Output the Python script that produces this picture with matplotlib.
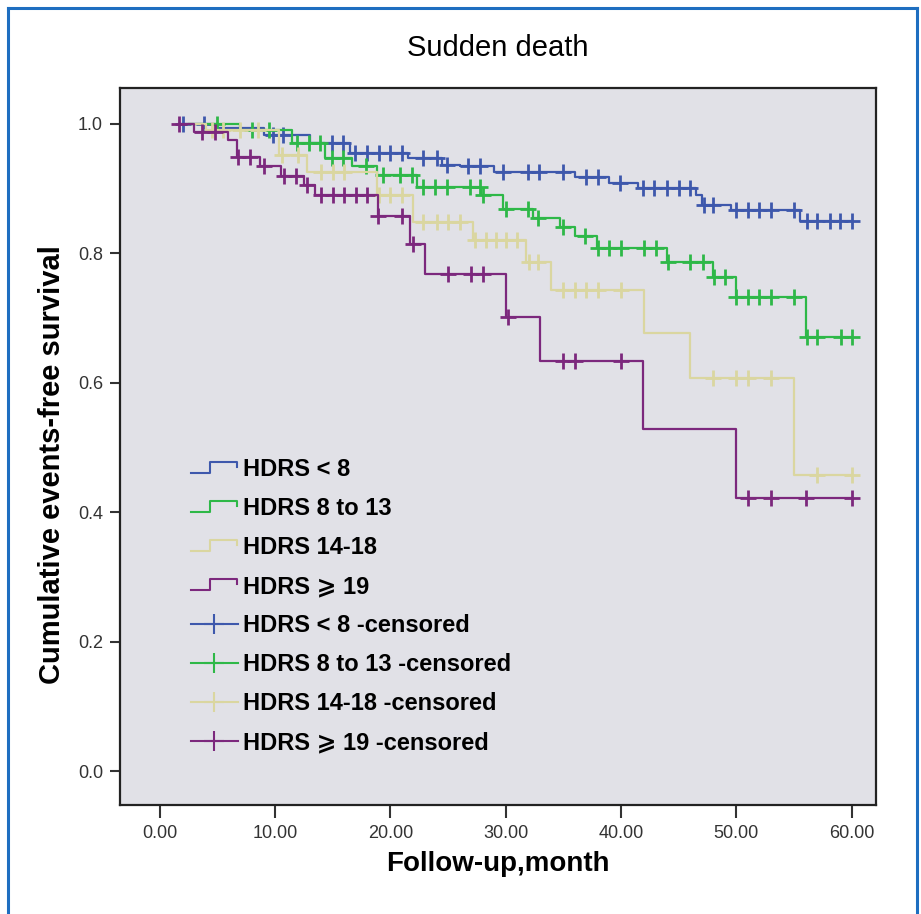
import numpy as np
import matplotlib
matplotlib.use("Agg")
import matplotlib.pyplot as plt
from matplotlib.lines import Line2D
from matplotlib.legend_handler import HandlerBase

plt.rcParams['font.family'] = ['Liberation Sans', 'DejaVu Sans']

# step times (months) and survival after each step, censored times
blue_t = [1.7, 5.0, 9.0, 13.0, 16.5, 21.5, 24.5, 26.0, 29.0, 36.0, 39.0, 41.5, 46.5, 47.0, 49.5, 55.5]
blue_s = [1.0, 0.993, 0.982, 0.971, 0.955, 0.947, 0.937, 0.934, 0.926, 0.917, 0.909, 0.901, 0.89, 0.875, 0.866, 0.85]
blue_c = [2.0, 3.8, 9.8, 10.7, 14.9, 15.9, 16.9, 18.0, 19.0, 20.0, 21.0, 22.8, 24.0, 24.9, 26.7, 27.8,
          29.8, 31.9, 32.9, 35.0, 37.0, 38.0, 39.9, 41.9, 42.9, 44.0, 45.0, 46.0, 47.2, 48.0,
          50.0, 51.0, 52.0, 53.0, 55.0, 56.1, 57.0, 58.1, 59.0, 60.0]

green_t = [2.5, 7.0, 11.5, 14.3, 16.7, 18.8, 22.3, 27.9, 29.8, 32.4, 34.7, 36.0, 37.9, 44.0, 48.0, 50.0, 56.0]
green_s = [1.0, 0.99, 0.97, 0.947, 0.934, 0.921, 0.903, 0.89, 0.868, 0.855, 0.841, 0.826, 0.808, 0.787, 0.764, 0.733, 0.671]
green_c = [5.0, 8.0, 9.5, 11.9, 12.9, 13.9, 14.9, 15.9, 17.9, 19.4, 20.8, 21.9, 22.8, 23.9, 24.9, 26.9, 27.8,
           28.0, 30.0, 31.9, 32.8, 35.0, 36.9, 38.0, 39.0, 40.0, 42.0, 43.0, 44.1, 46.0, 47.1, 48.1, 49.0,
           50.0, 51.0, 52.0, 53.0, 55.0, 56.1, 57.0, 59.1, 60.0]

yellow_t = [2.5, 4.0, 10.3, 12.8, 18.8, 22.0, 27.2, 31.8, 33.9, 42.0, 46.0, 55.0]
yellow_s = [1.0, 0.99, 0.952, 0.926, 0.89, 0.849, 0.82, 0.787, 0.743, 0.677, 0.607, 0.457]
yellow_c = [4.5, 5.5, 7.0, 8.5, 10.6, 12.0, 14.0, 15.0, 16.0, 19.0, 20.0, 21.0, 22.8, 24.0, 25.0, 26.0,
            27.3, 28.3, 29.2, 30.0, 31.0, 32.0, 32.8, 35.0, 36.0, 37.0, 38.0, 40.0, 48.0, 50.0, 51.0,
            53.0, 57.0, 60.0]

purple_t = [1.7, 3.0, 5.9, 6.7, 8.7, 10.5, 12.5, 13.5, 18.9, 21.7, 23.0, 30.0, 33.0, 41.9, 50.0]
purple_s = [1.0, 0.988, 0.975, 0.949, 0.935, 0.92, 0.905, 0.89, 0.858, 0.815, 0.768, 0.702, 0.633, 0.528, 0.422]
purple_c = [1.7, 3.7, 4.8, 6.8, 7.8, 9.0, 10.8, 11.8, 12.8, 14.0, 15.0, 16.0, 17.0, 18.0, 18.9, 21.0,
            22.0, 25.0, 27.0, 28.0, 30.2, 35.0, 36.0, 40.0, 51.0, 53.0, 56.0, 60.0]

groups = ["HDRS < 8", "HDRS 8 to 13", "HDRS 14-18", "HDRS \u2a7e 19"]
colors = ["#3E58AC", "#2EB848", "#DAD6A0", "#7C287D"]
t_end = 60.0

series = [(blue_t, blue_s, blue_c), (green_t, green_s, green_c),
          (yellow_t, yellow_s, yellow_c), (purple_t, purple_s, purple_c)]


class StepHandler(HandlerBase):
    def create_artists(self, legend, orig_handle, xdescent, ydescent,
                       width, height, fontsize, trans):
        x = np.array([0, 0.4, 0.4, 0.98, 0.98]) * width - xdescent
        y = np.array([0.15, 0.15, 0.85, 0.85, 0.55]) * height - ydescent
        ln = Line2D(x, y, color=orig_handle.get_color(), lw=1.5)
        ln.set_transform(trans)
        return [ln]


fig = plt.figure(figsize=(9.21, 9.14), dpi=100)
ax = fig.add_axes([0.130, 0.119, 0.821, 0.785])
ax.set_facecolor("#E1E1E7")

step_handles = []
cens_handles = []
for (t, s, c), col, name in zip(series, colors, groups):
    tt = np.append(t, t_end)
    ss = np.append(s, s[-1])
    h, = ax.step(tt, ss, where="post", color=col, lw=1.6, label=name)
    step_handles.append(h)
    idx = np.searchsorted(t, c, side="right") - 1
    cy = np.array(s)[np.clip(idx, 0, None)]
    ax.plot(c, cy, ls="none", marker="+", ms=11, mew=2.0, color=col)
    cens_handles.append(Line2D([], [], color=col, lw=1.5, marker="+", ms=15, mew=1.5,
                               label=name + " -censored"))

ax.set_xlim(-3.47, 62.1)
ax.set_ylim(-0.0526, 1.0556)
ax.set_xticks(np.arange(0, 61, 10))
ax.set_xticklabels([f"{v:.2f}" for v in np.arange(0, 61, 10)])
ax.set_yticks([0.0, 0.2, 0.4, 0.6, 0.8, 1.0])
ax.set_yticklabels(["0.0", "0.2", "0.4", "0.6", "0.8", "1.0"])
ax.tick_params(axis="x", direction="out", length=9, width=1.5, labelsize=13,
               pad=5, colors="#333333")
ax.tick_params(axis="y", direction="out", length=7, width=1.5, labelsize=13,
               pad=5, colors="#333333")
for sp in ax.spines.values():
    sp.set_linewidth(1.6)
    sp.set_color("#222222")

ax.set_xlabel("Follow-up,month", fontsize=20, fontweight="bold")
ax.xaxis.set_label_coords(0.5, -0.064)
ax.set_ylabel("Cumulative events-free survival", fontsize=21, fontweight="bold")
ax.yaxis.set_label_coords(-0.071, 0.475)
fig.text(0.540, 0.948, "Sudden death", ha="center", va="center", fontsize=21)

handles = step_handles + cens_handles
labels = [h.get_label() for h in handles]
hmap = {h: StepHandler() for h in step_handles}
leg = ax.legend(handles, labels, handler_map=hmap, loc="upper left", numpoints=1,
                bbox_to_anchor=(179 / 921, 1 - 446 / 914), bbox_transform=fig.transFigure,
                frameon=False, borderpad=0, handlelength=2.0, handletextpad=0.2,
                labelspacing=0.68, prop={"weight": "bold", "size": 17})

# blue frame around the figure
fx0, fx1, fy1 = 8 / 921, 917 / 921, 1 - 8 / 914
frame_col = "#1E6EC0"
fig.add_artist(Line2D([fx0, fx0], [0, fy1], transform=fig.transFigure, color=frame_col, lw=2.2))
fig.add_artist(Line2D([fx0, fx1], [fy1, fy1], transform=fig.transFigure, color=frame_col, lw=2.2))
fig.add_artist(Line2D([fx1, fx1], [0, fy1], transform=fig.transFigure, color=frame_col, lw=2.2))

fig.savefig("out.png", dpi=100)
